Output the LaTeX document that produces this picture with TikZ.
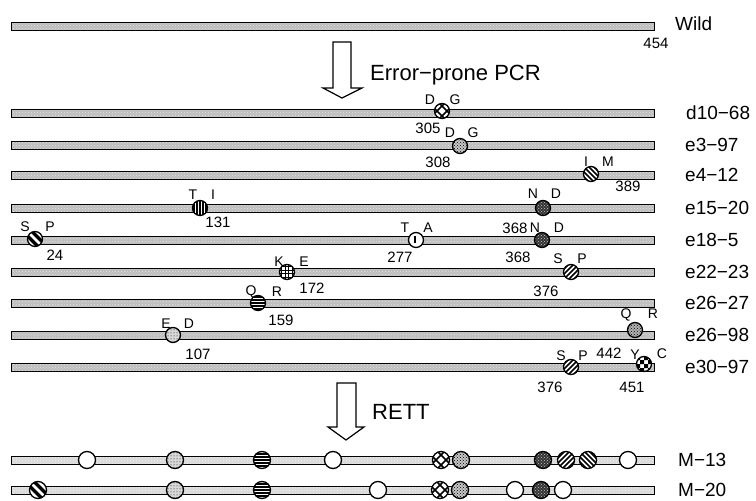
\documentclass[tikz,border=0pt]{standalone}
\usepackage{fontspec}
\setmainfont{Liberation Sans}
\usetikzlibrary{patterns}
\tikzset{
  bar/.style={draw=black, line width=0.7pt, preaction={fill=gray!52}, pattern=crosshatch dots, pattern color=gray!20},
  mut/.style={circle, draw=black, line width=1.3pt, minimum size=15pt, inner sep=0pt, fill=white},
  mbig/.style={minimum size=17pt},
  aa/.style={font=\fontsize{14}{14}\selectfont, inner sep=0pt},
  num/.style={font=\fontsize{15}{15}\selectfont, inner sep=0pt},
  lab/.style={font=\fontsize{19}{19}\selectfont, anchor=west, inner sep=0pt},
  big/.style={font=\fontsize{22}{22}\selectfont, anchor=west, inner sep=0pt},
  blockarrow/.style={draw=black, line width=1.2pt, fill=white, line join=miter},
  hatchne/.style={path picture={\begin{scope}[shift={(path picture bounding box.center)}]
      \foreach \i in {-15,-10,...,15} \draw[line width=1.7pt] (\i-10,10)--(\i+10,-10);\end{scope}}},
  hatchnw/.style={path picture={\begin{scope}[shift={(path picture bounding box.center)}]
      \foreach \i in {-15,-10,...,15} \draw[line width=1.7pt] (\i-10,-10)--(\i+10,10);\end{scope}}},
  sptwo/.style={path picture={\begin{scope}[shift={(path picture bounding box.center)}]
      \foreach \i in {-4.5,4.5} \draw[line width=3.2pt] (\i-10,-10)--(\i+10,10);\end{scope}}},
  woven/.style={path picture={\begin{scope}[shift={(path picture bounding box.center)}]
      \foreach \i in {-5,5} {\draw[line width=1.6pt] (\i-10,-10)--(\i+10,10);
                              \draw[line width=1.6pt] (\i-10,10)--(\i+10,-10);}\end{scope}}},
  vstripes/.style={path picture={\begin{scope}[shift={(path picture bounding box.center)}]
      \foreach \i in {-6,-3,...,6} \draw[line width=1.3pt] (\i,-10)--(\i,10);\end{scope}}},
  hstripes/.style={path picture={\begin{scope}[shift={(path picture bounding box.center)}]
      \foreach \i in {-6,-3,...,6} \draw[line width=1.6pt] (-10,\i)--(10,\i);\end{scope}}},
  gridpat/.style={path picture={\begin{scope}[shift={(path picture bounding box.center)}]
      \foreach \i in {-5.5,-2,1.5,5} {\draw[line width=0.9pt] (-10,\i)--(10,\i); \draw[line width=0.9pt] (\i,-10)--(\i,10);}\end{scope}}},
  checker/.style={path picture={\begin{scope}[shift={(path picture bounding box.center)}]
      \fill[black] (-8,-8) rectangle (-4,-4) (0,-8) rectangle (4,-4)
                   (-4,-4) rectangle (0,0) (4,-4) rectangle (8,0)
                   (-8,0) rectangle (-4,4) (0,0) rectangle (4,4)
                   (-4,4) rectangle (0,8) (4,4) rectangle (8,8);\end{scope}}},
  ticked/.style={path picture={\begin{scope}[shift={(path picture bounding box.center)}]
      \draw[line width=1.2pt] (-1,-4)--(-1,3); \fill (2.5,-3) circle (1pt);\end{scope}}},
  densedots/.style={preaction={fill=gray!45}, pattern=crosshatch dots, pattern color=black},
  darkdots/.style={preaction={fill=black!80}, pattern=crosshatch dots, pattern color=gray!45},
  sparsedots/.style={preaction={fill=gray!30}, pattern=dots, pattern color=black},
  graydots/.style={preaction={fill=gray!60}, pattern=crosshatch dots, pattern color=black},
}
\begin{document}
\begin{tikzpicture}[x=1pt, y=-1pt]
\useasboundingbox (0,0) rectangle (756,501);
% bars
\foreach \yy in {26,113,145,175,208,240,272,303,335,367}
  \draw[bar] (11,\yy-4) rectangle (654,\yy+4);
\foreach \yy in {460,490}
  \draw[bar, preaction={fill=gray!30}, pattern color=gray!10] (11,\yy-4) rectangle (654,\yy+4);
% row labels
\node[lab] (lwild) at (675,24) {Wild};
\node[num] (n454) at (656,43) {454};
\node[lab] (l1) at (686,113) {d10−68};
\node[lab] (l2) at (685,145) {e3−97};
\node[lab] (l3) at (685,175) {e4−12};
\node[lab] (l4) at (685,208) {e15−20};
\node[lab] (l5) at (685,240) {e18−5};
\node[lab] (l6) at (685,272) {e22−23};
\node[lab] (l7) at (685,303) {e26−27};
\node[lab] (l8) at (685,335) {e26−98};
\node[lab] (l9) at (685,367) {e30−97};
\node[lab] (l10) at (678,460) {M−13};
\node[lab] (l11) at (678,490) {M−20};
% block arrows
\draw[blockarrow] (333,42) -- (351,42) -- (351,88) -- (362,88) -- (342,98) -- (323,88) -- (333,88) -- cycle;
\node[big] (epcr) at (370,75) {Error−prone PCR};
\draw[blockarrow] (337,383) -- (356,383) -- (356,427) -- (364,427) -- (346,440) -- (328,427) -- (337,427) -- cycle;
\node[big] (rett) at (372,412) {RETT};
% d10-68
\node[mut, woven] (c1) at (442,111) {};
\node[aa] (c1a) at (430,100) {D}; \node[aa] (c1b) at (455,100) {G};
\node[num] (c1n) at (428,128) {305};
% e3-97
\node[mut, densedots] (c2) at (460,146) {};
\node[aa] (c2a) at (450,133) {D}; \node[aa] (c2b) at (473,133) {G};
\node[num] (c2n) at (438,162) {308};
% e4-12
\node[mut, hatchnw] (c3) at (591,174) {};
\node[aa] (c3a) at (586,162) {I}; \node[aa] (c3b) at (608,162) {M};
\node[num] (c3n) at (628,186) {389};
% e15-20
\node[mut, vstripes] (c4) at (200,208) {};
\node[aa] (c4a) at (193,195) {T}; \node[aa] (c4b) at (213,195) {I};
\node[num] (c4n) at (218,222) {131};
\node[mut, darkdots] (c5) at (543,208) {};
\node[aa] (c5a) at (533,194) {N}; \node[aa] (c5b) at (556,194) {D};
% e18-5
\node[mut, sptwo] (c6) at (35,239) {};
\node[aa] (c6a) at (25,227) {S}; \node[aa] (c6b) at (50,227) {P};
\node[num] (c6n) at (55,255) {24};
\node[mut, ticked] (c7) at (416,240) {};
\node[aa] (c7a) at (405,228) {T}; \node[aa] (c7b) at (428,228) {A};
\node[num] (c7n) at (400,257) {277};
\node[mut, darkdots] (c8) at (542,240) {};
\node[num] (c8m) at (515,228) {368};
\node[aa] (c8a) at (535,228) {N}; \node[aa] (c8b) at (559,228) {D};
\node[num] (c8n) at (518,257) {368};
% e22-23
\node[mut, gridpat] (c9) at (287,272) {};
\node[aa] (c9a) at (279,262) {K}; \node[aa] (c9b) at (304,262) {E};
\node[num] (c9n) at (312,288) {172};
\node[mut, hatchne] (c10) at (571,272) {};
\node[aa] (c10a) at (558,259) {S}; \node[aa] (c10b) at (582,259) {P};
\node[num] (c10n) at (546,291) {376};
% e26-27
\node[mut, hstripes] (c11) at (258,303) {};
\node[aa] (c11a) at (251,292) {Q}; \node[aa] (c11b) at (277,292) {R};
\node[num] (c11n) at (281,320) {159};
% e26-98
\node[mut, sparsedots] (c12) at (173,335) {};
\node[aa] (c12a) at (166,324) {E}; \node[aa] (c12b) at (189,324) {D};
\node[num] (c12n) at (198,354) {107};
\node[mut, graydots] (c13) at (635,330) {};
\node[aa] (c13a) at (626,315) {Q}; \node[aa] (c13b) at (653,314) {R};
\node[num] (c13n) at (609,353) {442};
% e30-97
\node[mut, hatchne] (c14) at (571,367) {};
\node[aa] (c14a) at (561,356) {S}; \node[aa] (c14b) at (583,356) {P};
\node[num] (c14n) at (550,387) {376};
\node[mut, checker] (c15) at (644,364) {};
\node[aa] (c15a) at (635,355) {Y}; \node[aa] (c15b) at (662,354) {C};
\node[num] (c15n) at (632,387) {451};
% M-13
\node[mut, mbig] (m1) at (87,460) {};
\node[mut, mbig, sparsedots] (m2) at (175,460) {};
\node[mut, mbig, hstripes] (m3) at (262,460) {};
\node[mut, mbig] (m4) at (333,460) {};
\node[mut, mbig, woven] (m5) at (441,460) {};
\node[mut, mbig, densedots] (m6) at (461,460) {};
\node[mut, mbig, darkdots] (m7) at (543,460) {};
\node[mut, mbig, hatchne] (m8) at (566,460) {};
\node[mut, mbig, hatchnw] (m9) at (588,460) {};
\node[mut, mbig] (m10) at (628,460) {};
% M-20
\node[mut, mbig, sptwo] (p1) at (38,490) {};
\node[mut, mbig, sparsedots] (p2) at (175,490) {};
\node[mut, mbig, hstripes] (p3) at (262,490) {};
\node[mut, mbig] (p4) at (378,490) {};
\node[mut, mbig, woven] (p5) at (440,490) {};
\node[mut, mbig, densedots] (p6) at (460,490) {};
\node[mut, mbig] (p7) at (515,490) {};
\node[mut, mbig, darkdots] (p8) at (541,490) {};
\node[mut, mbig] (p9) at (563,490) {};
\end{tikzpicture}
\end{document}
